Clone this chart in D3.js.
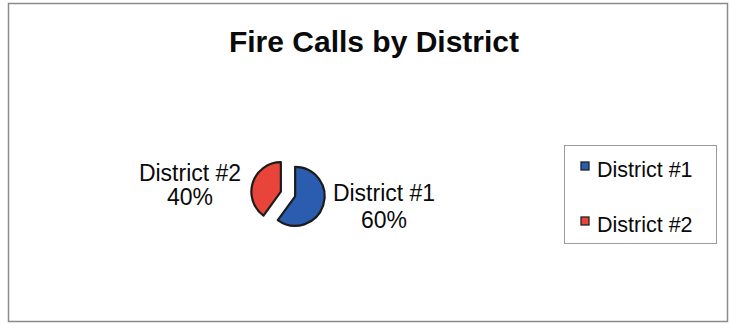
<!DOCTYPE html>
<html>
<head>
<meta charset="utf-8">
<script src="https://cdn.jsdelivr.net/npm/d3@7"></script>
<style>
  html, body { margin: 0; padding: 0; background: #fff; }
  svg { display: block; }
  text { font-family: "Liberation Sans", Arial, sans-serif; fill: #0a0a0a; }
</style>
</head>
<body>
<svg id="chart" width="730" height="325"></svg>
<script>
// Share of fire calls per district
const categories = ["District #1", "District #2"];
const values = [60, 40];
const colors = ["#2a5cb0", "#e8443a"];
const title = "Fire Calls by District";

const svg = d3.select("#chart");

// Outer chart frame
svg.append("rect")
  .attr("x", 8.5).attr("y", 3.5)
  .attr("width", 719).attr("height", 318)
  .attr("fill", "none")
  .attr("stroke", "#8a8a8a")
  .attr("stroke-width", 1.5);

// Title
svg.append("text")
  .attr("x", 374).attr("y", 52)
  .attr("text-anchor", "middle")
  .style("font-size", "30px")
  .style("font-weight", "bold")
  .text(title);

// Exploded pie
const cx = 288, cy = 194, radius = 29.5, explode = 7.5;
const total = d3.sum(values);
const pie = d3.pie().sort(null).value(d => d.value);
const arcs = pie(categories.map((c, i) => ({ name: c, value: values[i], color: colors[i] })));
const arc = d3.arc().innerRadius(0).outerRadius(radius);

const pieG = svg.append("g").attr("transform", `translate(${cx},${cy})`);
pieG.selectAll("path")
  .data(arcs)
  .join("path")
  .attr("transform", d => {
    const a = (d.startAngle + d.endAngle) / 2;
    return `translate(${Math.sin(a) * explode},${-Math.cos(a) * explode})`;
  })
  .attr("d", arc)
  .attr("fill", d => d.data.color)
  .attr("stroke", "#1c1c1c")
  .attr("stroke-width", 2.2)
  .attr("stroke-linejoin", "round");

// Data labels: category name and percentage
const labelPos = [
  { x: 384, y1: 201, y2: 228 },
  { x: 190, y1: 181, y2: 205 }
];
arcs.forEach((d, i) => {
  const p = labelPos[i];
  const pct = Math.round(d.data.value / total * 100) + "%";
  const t = svg.append("text")
    .attr("text-anchor", "middle")
    .style("font-size", "23px");
  t.append("tspan").attr("x", p.x).attr("y", p.y1).text(d.data.name);
  t.append("tspan").attr("x", p.x).attr("y", p.y2).text(pct);
});

// Legend
const legend = svg.append("g");
legend.append("rect")
  .attr("x", 564.5).attr("y", 145.5)
  .attr("width", 152).attr("height", 98)
  .attr("fill", "#fff")
  .attr("stroke", "#9a9a9a")
  .attr("stroke-width", 1);

const item = legend.selectAll("g.item")
  .data(categories)
  .join("g")
  .attr("class", "item")
  .attr("transform", (d, i) => `translate(581,${177 + i * 55})`);
item.append("rect")
  .attr("x", 0).attr("y", -15)
  .attr("width", 8).attr("height", 8)
  .attr("fill", (d, i) => colors[i])
  .attr("stroke", "#222")
  .attr("stroke-width", 1.3);
item.append("text")
  .attr("x", 16).attr("y", 0)
  .style("font-size", "21.5px")
  .text(d => d);
</script>
</body>
</html>
